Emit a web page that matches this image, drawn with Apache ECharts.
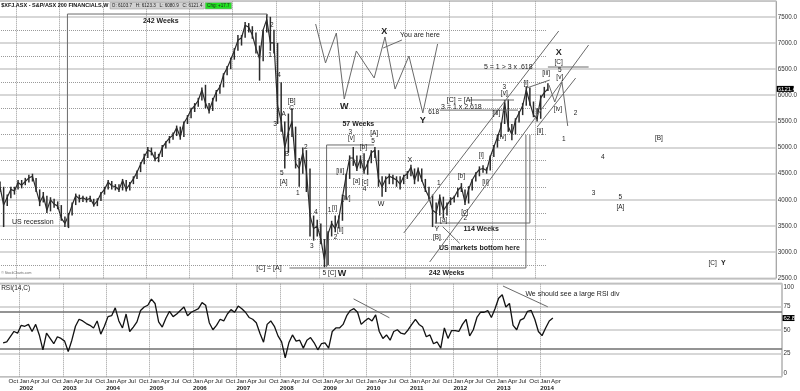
<!DOCTYPE html>
<html><head><meta charset="utf-8">
<script src="https://cdn.jsdelivr.net/npm/echarts@6/dist/echarts.min.js"></script>
<style>html,body{margin:0;padding:0;background:#fff;overflow:hidden;width:800px;height:391px;}
#main{position:absolute;left:-27.17px;top:0;width:827.17px;height:391px;}</style>
</head><body><div id="main"></div>
<script>
// ---------------- DATA (monthly, starting Aug 2001) ----------------
const startYear = 2001, startMonth = 8;
const closes = [
 4250,3900,4050,4200,4170,
 4330,4280,4350,4420,4450,4200,3950,4080,3800,4000,3920,3880,
 3650,3550,3700,3900,4080,4020,4040,4000,4030,3900,3980,4120,
 4200,4340,4270,4250,4190,4370,4200,4300,4400,4530,4680,4820,
 4950,4920,4780,4820,5000,5100,5180,5240,5380,5200,5470,5580,
 5720,5800,5900,6100,5850,5700,5900,6060,6160,6390,6520,6680,
 6850,7050,7100,7340,7300,7150,6900,6700,7250,7450,7000,7000,
 5800,5500,5000,5300,5500,4700,4600,4900,4550,3700,3450,3500,
 3250,2850,3350,3550,3450,3650,4050,4450,4800,4800,4600,4780,
 4550,4700,4900,4950,4400,4250,4400,4450,4420,4380,4300,4450,
 4500,4620,4380,4580,4380,4200,4050,3800,3750,4050,3800,3900,
 4000,4050,4180,4250,3950,4200,4380,4500,4580,4600,4560,4820,
 5010,5200,5400,5850,5400,5250,5520,5660,5800,6100,5850,5620,
 5550,5950,6050,6121.4
];
const highs = [
 4350,4250,4100,4250,4250,
 4380,4380,4420,4480,4500,4420,4200,4150,4080,4050,4020,3970,
 3900,3680,3750,3950,4120,4100,4080,4060,4080,4020,4030,4150,
 4250,4380,4360,4300,4300,4400,4380,4340,4450,4560,4720,4880,
 5010,5000,4920,4880,5050,5120,5220,5290,5420,5400,5500,5620,
 5760,5850,5950,6150,6200,5850,5950,6100,6200,6420,6560,6720,
 6900,7150,7150,7400,7380,7320,7200,6950,7250,7550,7500,7250,
 7000,6250,5500,5650,5750,5400,4800,5000,4950,4600,3700,3620,
 3550,3250,3400,3600,3700,3700,4100,4500,4850,5010,4850,4850,
 4890,4750,4950,5010,4950,4450,4450,4500,4480,4450,4450,4480,
 4550,4670,4600,4620,4600,4400,4250,4100,3950,4100,4060,3950,
 4050,4080,4230,4320,4200,4260,4400,4530,4640,4660,4620,4850,
 5050,5250,5480,5910,5920,5450,5560,5700,5850,6170,6150,5880,
 5750,6000,6160,6230
];
const lows = [
 4150,3480,3880,4030,4100,
 4200,4220,4280,4330,4350,4150,3880,3950,3750,3780,3850,3820,
 3600,3480,3460,3700,3900,3950,3960,3950,3960,3870,3880,3980,
 4100,4200,4200,4180,4150,4180,4160,4180,4300,4400,4530,4680,
 4800,4850,4740,4720,4820,4980,5080,5150,5220,5150,5200,5450,
 5560,5680,5780,5900,5750,5650,5700,5880,6030,6150,6380,6500,
 6680,6850,6950,7100,7200,7080,6800,6280,6650,7200,6850,6800,
 5450,5300,4600,4900,5200,4600,4250,4500,4150,3300,3220,3300,
 3150,2710,2750,3300,3380,3450,3600,4000,4400,4650,4550,4600,
 4500,4480,4700,4800,4250,4060,4150,4300,4300,4250,4200,4300,
 4400,4450,4300,4350,4350,4150,4000,3480,3550,3700,3650,3700,
 3900,3950,4050,4150,3900,3930,4180,4350,4450,4520,4500,4560,
 4820,5000,5200,5450,5300,5140,5250,5480,5620,5800,5800,5580,
 5500,5550,5950,6080
];
const rsi = [
 36.3,37.2,42.8,48.4,46.6,
 55,54,56,48.4,56,44.7,28.8,46.6,41,35.3,42.8,41,
 38.1,26.9,39.1,54,61.5,59.7,56.9,55,52.2,59.7,45.6,54,
 64.3,65.3,73.7,59.7,52.2,67.1,48.4,53.1,58.7,70.9,74.6,76.5,
 83.1,78.4,58.7,53.1,62.5,70,64.3,67.1,70.9,74.6,65.3,69,
 70.9,72.8,79.3,76.5,57.8,50.3,55,61.5,59.7,67.1,71.8,69,
 75.6,72.8,69,63.4,61.5,57.8,46.6,37,56,59.7,54,43.7,
 37.2,20.3,36.3,44.7,38.1,39.1,30.6,39.1,41.9,36.3,28.8,35.3,
 36.3,30.6,48.4,52.2,52.2,56,65.3,70.9,72.8,69,56,59.7,
 62.5,59.7,66.2,48.4,41,44.7,39.1,48.4,50.3,46.6,45.6,50.3,
 56,61.5,56,53.1,42.8,44.7,35.3,37.2,30.6,52.2,41,49.4,
 49.4,48.4,56,61.5,43.7,50.3,63.4,69,69,70.9,63.4,72.8,
 84,87.7,74.6,78.4,55,50.3,60.6,62.5,70,70.9,61.5,48.4,
 44,52.2,59.7,62.8
];
const quarterNames = ['Jan','Apr','Jul','Oct'];
const gridYears = [2002,2003,2004,2005,2006,2007,2008,2009,2010,2011,2012,2013,2014];
const minorLevels = [2750,3250,3750,4250,4750,5250,5750,6250,6750,7250];
const headerTitle = '$XFJ.ASX - S&P/ASX 200 FINANCIALS,W';
const headerOHLC = 'O: 6103.7   H: 6123.3   L: 6080.9   C: 6121.4';
const headerChg = 'Chg: +17.7';
const lastPriceTag = '6121.4';
const lastRsiTag = '62.8';

// annotations in data space: [text, month (since Jan 2001), price, kind]
const waveLabels = [
 ['2',82.9,7343,'n'],['1',82.4,6770,'n'],['4',84.9,6387,'n'],['3',83.8,5450,'n'],
 ['[B]',88.4,5890,'n'],['C',88.4,5756,'n'],['A',86.2,5641,'n'],['B',87.1,4877,'n'],
 ['5',85.7,4513,'n'],['[A]',86.2,4341,'n'],['2',92.3,5010,'n'],['1',90.1,4131,'n'],
 ['4',95.1,3768,'n'],['3',94.0,3118,'n'],['[C] = [A]',82.1,2697,'m'],
 ['5 [C]',98.9,2601,'n'],['W',102.4,2601,'L'],
 ['1',98.9,3806,'n'],['[i]',100.3,3844,'n'],['2',100.6,3290,'n'],['[ii]',101.9,3423,'n'],
 ['[iii]',101.9,4552,'n'],['[iv]',103.6,4035,'n'],['3',104.7,5297,'n'],['[v]',105.0,5182,'n'],
 ['57 Weeks',106.9,5450,'b'],['[a]',106.4,4360,'n'],['[b]',108.3,5010,'n'],['[c]',108.8,4341,'n'],
 ['4',108.6,4207,'n'],['[A]',111.3,5278,'n'],['5',111.0,5125,'n'],['W',113.2,3921,'m'],
 ['X',121.2,4762,'m'],['Y',128.7,3443,'m'],['[B]',128.7,3290,'n'],['1',129.2,4322,'n'],
 ['[a]',130.6,3615,'n'],['[b]',135.5,4456,'n'],['[c]',136.4,3768,'n'],['2',136.6,3653,'n'],
 ['[i]',141.0,4857,'n'],['[ii]',142.2,4341,'n'],['[iii]',145.2,5661,'n'],['[iv]',146.8,5201,'n'],
 ['3',147.4,6157,'n'],['[v]',147.4,6043,'n'],['[i]',153.4,6234,'n'],['[ii]',157.3,5316,'n'],
 ['[iii]',159.0,6424,'n'],['X',162.5,6808,'L'],['[C]',162.5,6636,'n'],['5',162.8,6481,'n'],
 ['[v]',162.8,6349,'n'],['[iv]',162.3,5737,'n'],['2',167.2,5661,'n'],['1',163.9,5163,'n'],
 ['4',174.7,4819,'n'],['3',172.2,4131,'n'],['5',179.6,4054,'n'],['[A]',179.6,3863,'n'],
 ['[B]',190.3,5182,'n'],['[C]',205.2,2792,'n'],['Y',208.2,2792,'b'],
 ['W',103.0,5794,'L'],['X',114.1,7209,'L'],['Y',124.8,5508,'L'],['You are here',124.0,7152,'m'],
 ['618',127.8,5680,'n'],['3 = 1 x 2.618',135.5,5775,'m'],['[C] = [A]',135.0,5909,'m'],
 ['5 = 1 > 3 x .618',148.5,6540,'m'],['242 Weeks',52.1,7420,'b'],['242 Weeks',131.4,2601,'b'],
 ['114 Weeks',141.0,3443,'b'],['US recession',16.6,3576,'m'],['US markets bottom here',140.5,3079,'b']
];
const annoLines = [
 [[26.2,3481],[26.2,7553],[81.6,7553],[81.6,7500]],
 [[87.8,2697],[153.4,2697],[153.4,5240]],
 [[98.1,2716],[98.1,5049],[111.3,5049]],
 [[128.1,3557],[154.5,3557],[154.5,5240]],
 [[119.5,3366],[162.5,7228]],
 [[126.7,2812],[170.8,6961]],
 [[156.5,5391],[167.2,6328]],
 [[153.6,6138],[160.0,6291]],
 [[159.8,6196],[161.4,5871],[163.4,6253],[165.0,5412]],
 [[159.5,6540],[170.8,6540]],
 [[137.7,5909],[150.1,5909]],
 [[129.5,5716],[151.2,5716]],
 [[119.0,7056],[113.8,6903]],
 [[95.06,7362],[97.8,6617],[100.8,7190],[103.0,5928],[106.35,6846],[111.3,6330],[114.3,7114],[117.1,6119],[120.95,6750],[124.8,5661],[128.9,6980]],
 [[130.3,3487],[135.0,3169]]
];
const rsiLabels = [['We should see a large RSI div',164.9,88.6,'m']];
const rsiLines = [
 [[104.4,83.3],[114.3,63.1]],
 [[145.7,97.1],[158.1,74.8]]
];

// ---------------- CHART ----------------
const FONT = '"Liberation Sans", Arial, sans-serif';
const SHIFT = 27.17; // container is moved left by this many pixels
const monthPos = closes.map((_, i) => (startYear - 2001) * 12 + (startMonth - 1) + i + 0.5);
const chart = echarts.init(document.getElementById('main'));
const X_MIN = 0, X_MAX = 222.85;

const dottedMain = minorLevels.map(v => [{coord:[0, v]}, {coord:[159, v]}])
  .concat(gridYears.map(y => ({xAxis: (y - 2001) * 12})));
const rsiMarks = gridYears.map(y => ({xAxis: (y - 2001) * 12, lineStyle:{type:'dotted', color:'#9a9a9a', width:1}}))
  .concat([{yAxis:70, lineStyle:{type:'solid', color:'#707070', width:1.5}}, {yAxis:30, lineStyle:{type:'solid', color:'#707070', width:1.5}}]);

const option = {
  animation: false,
  backgroundColor: '#fff',
  grid: [
    {left:0, right:18, top:1.1, bottom:112.7, show:true, borderColor:'#8a8a8a', borderWidth:1},
    {left:0, right:18, top:283.3, bottom:13.7, show:true, borderColor:'#8a8a8a', borderWidth:1}
  ],
  xAxis: [
    {type:'value', gridIndex:0, min:X_MIN, max:X_MAX, interval:3,
     axisLine:{show:false}, axisTick:{show:false}, axisLabel:{show:false}, splitLine:{show:false}},
    {type:'value', gridIndex:1, min:X_MIN, max:X_MAX, interval:3,
     axisLine:{show:false}, axisTick:{show:false}, splitLine:{show:false},
     axisLabel:{show:true, margin:0.5, align:'left', hideOverlap:false,
       formatter: function (val) {
         const v = Math.round(val);
         if (v < 9 || v > 159 || v % 3 !== 0) return '';
         const m = v % 12;
         const name = quarterNames[m / 3];
         if (m === 0) return '{m|' + name + '}\n{y|' + (2001 + v / 12) + '}';
         return '{m|' + name + '}';
       },
       rich:{
         m:{fontSize:6.2, lineHeight:7.2, fontFamily:FONT, color:'#222'},
         y:{fontSize:6.2, lineHeight:7.2, fontFamily:FONT, color:'#222', fontWeight:'bold'}
       }}}
  ],
  yAxis: [
    {type:'value', gridIndex:0, position:'right', min:2500, max:7800, interval:500,
     axisLine:{show:true, lineStyle:{color:'#8a8a8a'}}, axisTick:{show:false},
     axisLabel:{margin:1.5, fontSize:6.3, fontFamily:FONT, color:'#333', showMaxLabel:false,
       formatter: v => (v <= 7500 && v % 500 === 0) ? v.toFixed(1) : ''},
     splitLine:{show:true, lineStyle:{color:'#cacaca', width:1.5}}},
    {type:'value', gridIndex:1, position:'right', min:0, max:100, interval:25,
     axisLine:{show:true, lineStyle:{color:'#8a8a8a'}}, axisTick:{show:false},
     axisLabel:{margin:1.5, fontSize:6.3, fontFamily:FONT, color:'#333',
       formatter: v => v === 100 ? '{t|100}' : (v === 0 ? '{b|0}' : String(v)),
       rich:{t:{fontSize:6.3, fontFamily:FONT, color:'#333', padding:[7,0,0,0]},
             b:{fontSize:6.3, fontFamily:FONT, color:'#333', padding:[0,0,7,0]}}},
     splitLine:{show:true, lineStyle:{color:'#cacaca', width:1.5}}}
  ],
  series: [
    {type:'custom', name:'HL', xAxisIndex:0, yAxisIndex:0, z:3,
     data: monthPos.map((x, i) => [x, lows[i], highs[i]]),
     encode:{x:0, y:[1,2]},
     renderItem: function (params, api) {
       const a = api.coord([api.value(0), api.value(1)]);
       const b = api.coord([api.value(0), api.value(2)]);
       return {type:'line', shape:{x1:a[0], y1:a[1], x2:b[0], y2:b[1]}, style:{stroke:'#2b2b2b', lineWidth:1.5}};
     }},
    {type:'line', name:'Close', xAxisIndex:0, yAxisIndex:0, z:4,
     data: monthPos.map((x, i) => [x, closes[i]]),
     showSymbol:false, lineStyle:{color:'#2b2b2b', width:1.2},
     markLine:{silent:true, symbol:['none','none'], label:{show:false}, animation:false,
       lineStyle:{type:'dotted', color:'#9a9a9a', width:1}, data: dottedMain, z:1}},
    {type:'line', name:'RSI', xAxisIndex:1, yAxisIndex:1, z:4,
     data: monthPos.map((x, i) => [x, rsi[i]]),
     showSymbol:false, lineStyle:{color:'#111', width:1.3},
     markLine:{silent:true, symbol:['none','none'], label:{show:false}, animation:false, data: rsiMarks, z:1}}
  ]
};
chart.setOption(option);

// ---------------- ANNOTATIONS ----------------
const kinds = {
  n:{fontSize:6.5, fontWeight:'normal'},
  m:{fontSize:7, fontWeight:'normal'},
  b:{fontSize:7, fontWeight:'bold'},
  L:{fontSize:9, fontWeight:'bold'}
};
const g = [];
function addText(t, p, k, align) {
  g.push({type:'text', x:p[0], y:p[1], silent:true, z:100,
    style:{text:t, fill:'#222', fontSize:kinds[k].fontSize, fontWeight:kinds[k].fontWeight,
      fontFamily:FONT, align:align || 'center', verticalAlign:'middle'}});
}
function addPoly(pts, color, w) {
  g.push({type:'polyline', silent:true, z:90, shape:{points:pts},
    style:{stroke:color, lineWidth:w, fill:null}});
}
annoLines.forEach(line => addPoly(line.map(p => chart.convertToPixel({gridIndex:0}, p)), '#6a6a6a', 1));
rsiLines.forEach(line => addPoly(line.map(p => chart.convertToPixel({gridIndex:1}, p)), '#6a6a6a', 1));
waveLabels.forEach(([t, x, v, k]) => addText(t, chart.convertToPixel({gridIndex:0}, [x, v]), k));
rsiLabels.forEach(([t, x, v, k]) => addText(t, chart.convertToPixel({gridIndex:1}, [x, v]), k));

// header (page pixel positions, shifted into container space)
g.push({type:'text', x:SHIFT + 1, y:5.5, silent:true, z:100,
  style:{text:headerTitle, fill:'#111', fontSize:5.5, fontWeight:'bold', fontFamily:FONT, align:'left', verticalAlign:'middle'}});
g.push({type:'rect', silent:true, z:99, shape:{x:SHIFT + 110, y:2.5, width:94, height:6.5}, style:{fill:'#d2d2d2', stroke:'#9a9a9a', lineWidth:0.6}});
g.push({type:'text', x:SHIFT + 157, y:5.9, silent:true, z:100, style:{text:headerOHLC, fill:'#222', fontSize:4.6, fontFamily:FONT, align:'center', verticalAlign:'middle'}});
g.push({type:'rect', silent:true, z:99, shape:{x:SHIFT + 205, y:2.5, width:26.5, height:6.5}, style:{fill:'#22e322', stroke:'#9a9a9a', lineWidth:0.6}});
g.push({type:'text', x:SHIFT + 218.2, y:5.9, silent:true, z:100, style:{text:headerChg, fill:'#222', fontSize:4.6, fontFamily:FONT, align:'center', verticalAlign:'middle'}});
g.push({type:'text', x:SHIFT + 1, y:288.5, silent:true, z:100, style:{text:'RSI(14,C)', fill:'#222', fontSize:6.5, fontFamily:FONT, align:'left', verticalAlign:'middle'}});
g.push({type:'text', x:SHIFT + 1, y:273, silent:true, z:100, style:{text:'\u00a9 StockCharts.com', fill:'#666', fontSize:3.5, fontFamily:FONT, align:'left', verticalAlign:'middle'}});
// last value tags
const pTag = chart.convertToPixel({gridIndex:0}, [X_MAX, closes[closes.length - 1]]);
g.push({type:'rect', silent:true, z:101, shape:{x:pTag[0] + 0.5, y:pTag[1] - 3, width:17, height:6}, style:{fill:'#000'}});
g.push({type:'text', x:pTag[0] + 1.5, y:pTag[1], silent:true, z:102, style:{text:lastPriceTag, fill:'#fff', fontSize:6, fontFamily:FONT, align:'left', verticalAlign:'middle'}});
const rTag = chart.convertToPixel({gridIndex:1}, [X_MAX, rsi[rsi.length - 1]]);
g.push({type:'rect', silent:true, z:101, shape:{x:rTag[0] + 0.5, y:rTag[1] - 3, width:12, height:6}, style:{fill:'#000'}});
g.push({type:'text', x:rTag[0] + 1.5, y:rTag[1], silent:true, z:102, style:{text:lastRsiTag, fill:'#fff', fontSize:6, fontFamily:FONT, align:'left', verticalAlign:'middle'}});

chart.setOption({graphic: g});
</script></body></html>
